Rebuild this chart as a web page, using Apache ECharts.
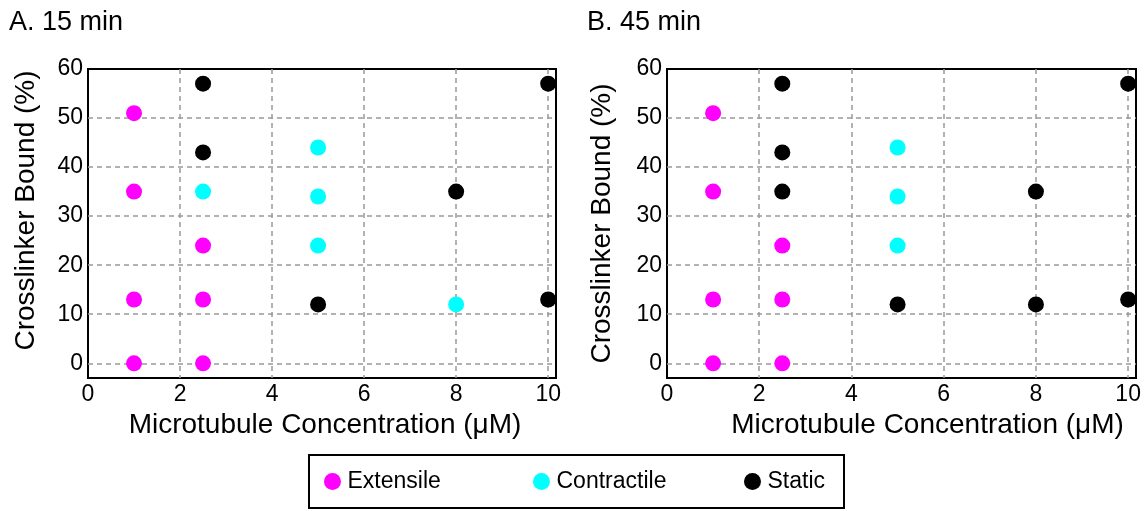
<!DOCTYPE html>
<html>
<head>
<meta charset="utf-8">
<script src="https://cdn.jsdelivr.net/npm/echarts@6/dist/echarts.min.js"></script>
<style>
  html, body { margin: 0; padding: 0; background: #fff; }
  #chart { width: 1148px; height: 511px; }
</style>
</head>
<body>
<div id="chart"></div>
<script>
// tick labels
const xTicks = [0, 2, 4, 6, 8, 10]
const yTicks = [0, 10, 20, 30, 40, 50, 60]
// dashed grid lines (60 and 0 sit on the frame)
const xGridLines = [2, 4, 6, 8, 10]
const yGridLines = [0, 10, 20, 30, 40, 50]

// A. 15 min
const extensileA = [[1, 51], [1, 35], [1, 13], [1, 0], [2.5, 24], [2.5, 13], [2.5, 0]]
const contractileA = [[2.5, 35], [5, 44], [5, 34], [5, 24], [8, 12]]
const staticA = [[2.5, 57], [2.5, 43], [5, 12], [8, 35], [10, 57], [10, 13]]

// B. 45 min
const extensileB = [[1, 51], [1, 35], [1, 13], [1, 0], [2.5, 24], [2.5, 13], [2.5, 0]]
const contractileB = [[5, 44], [5, 34], [5, 24]]
const staticB = [[2.5, 57], [2.5, 43], [2.5, 35], [5, 12], [8, 35], [8, 12], [10, 57], [10, 13]]

const seriesNames = ['Extensile', 'Contractile', 'Static']

const font = "'Liberation Sans', Arial, Helvetica, sans-serif"
const colors = { Extensile: '#ff00ff', Contractile: '#00ffff', Static: '#000000' }
// left edge of each legend entry inside the framed box
const legendLeft = { Extensile: 324, Contractile: 533, Static: 744 }

const chart = echarts.init(document.getElementById('chart'))

function xAxisFor(gridIndex, namePad) {
  return {
    gridIndex,
    type: 'value',
    min: 0,
    max: 10.17,
    name: 'Microtubule Concentration (\u03bcM)',
    nameLocation: 'middle',
    nameGap: 33,
    nameTextStyle: { fontFamily: font, fontSize: 28, color: '#000', padding: namePad },
    axisLine: { show: false },
    axisTick: { show: false, customValues: xGridLines },
    axisLabel: { customValues: xTicks, margin: 5, fontFamily: font, fontSize: 23, color: '#000' },
    splitLine: { show: true, lineStyle: { color: '#999', width: 1.5, type: [5, 4] } }
  }
}

function yAxisFor(gridIndex, nameGap, namePad) {
  return {
    gridIndex,
    type: 'value',
    min: -3,
    max: 60,
    name: 'Crosslinker Bound (%)',
    nameLocation: 'middle',
    nameGap,
    nameTextStyle: { fontFamily: font, fontSize: 28, color: '#000', padding: namePad },
    axisLine: { show: false },
    axisTick: { show: false, customValues: yGridLines },
    axisLabel: { customValues: yTicks, margin: 5, fontFamily: font, fontSize: 23, color: '#000' },
    splitLine: { show: true, lineStyle: { color: '#999', width: 1.5, type: [5, 4] } }
  }
}

function scatter(name, data, idx) {
  return {
    name,
    type: 'scatter',
    xAxisIndex: idx,
    yAxisIndex: idx,
    data,
    symbol: 'circle',
    symbolSize: 16,
    itemStyle: { color: colors[name], opacity: 1 },
    z: 5
  }
}

const gridBox = { show: true, borderColor: '#000', borderWidth: 2, backgroundColor: '#fff' }

chart.setOption({
  animation: false,
  textStyle: { fontFamily: font },
  title: [
    { text: 'A. 15 min', left: 4, top: 4, textStyle: { fontFamily: font, fontSize: 27, fontWeight: 'normal', color: '#000' } },
    { text: 'B. 45 min', left: 582, top: 4, textStyle: { fontFamily: font, fontSize: 27, fontWeight: 'normal', color: '#000' } }
  ],
  // frame round the legend
  graphic: [{
    type: 'rect',
    left: 308,
    top: 454,
    shape: { width: 535, height: 53 },
    style: { fill: '#fff', stroke: '#000', lineWidth: 2 },
    z: 0
  }],
  legend: seriesNames.map(name => ({
    left: legendLeft[name],
    top: 470,
    padding: 0,
    itemWidth: 20,
    itemHeight: 17,
    icon: 'circle',
    data: [name],
    textStyle: { fontFamily: font, fontSize: 23, color: '#000' },
    z: 10
  })),
  grid: [
    Object.assign({ left: 88, top: 69, width: 468, height: 309 }, gridBox),
    Object.assign({ left: 667, top: 69, width: 469, height: 309 }, gridBox)
  ],
  xAxis: [xAxisFor(0, [0, 0, 0, 6]), xAxisFor(1, [0, 0, 0, 52])],
  yAxis: [yAxisFor(0, 48, [0, 0, 0, 26]), yAxisFor(1, 51, [0, 0, 0, 0])],
  series: [
    scatter('Extensile', extensileA, 0),
    scatter('Contractile', contractileA, 0),
    scatter('Static', staticA, 0),
    scatter('Extensile', extensileB, 1),
    scatter('Contractile', contractileB, 1),
    scatter('Static', staticB, 1)
  ]
})
</script>
</body>
</html>
